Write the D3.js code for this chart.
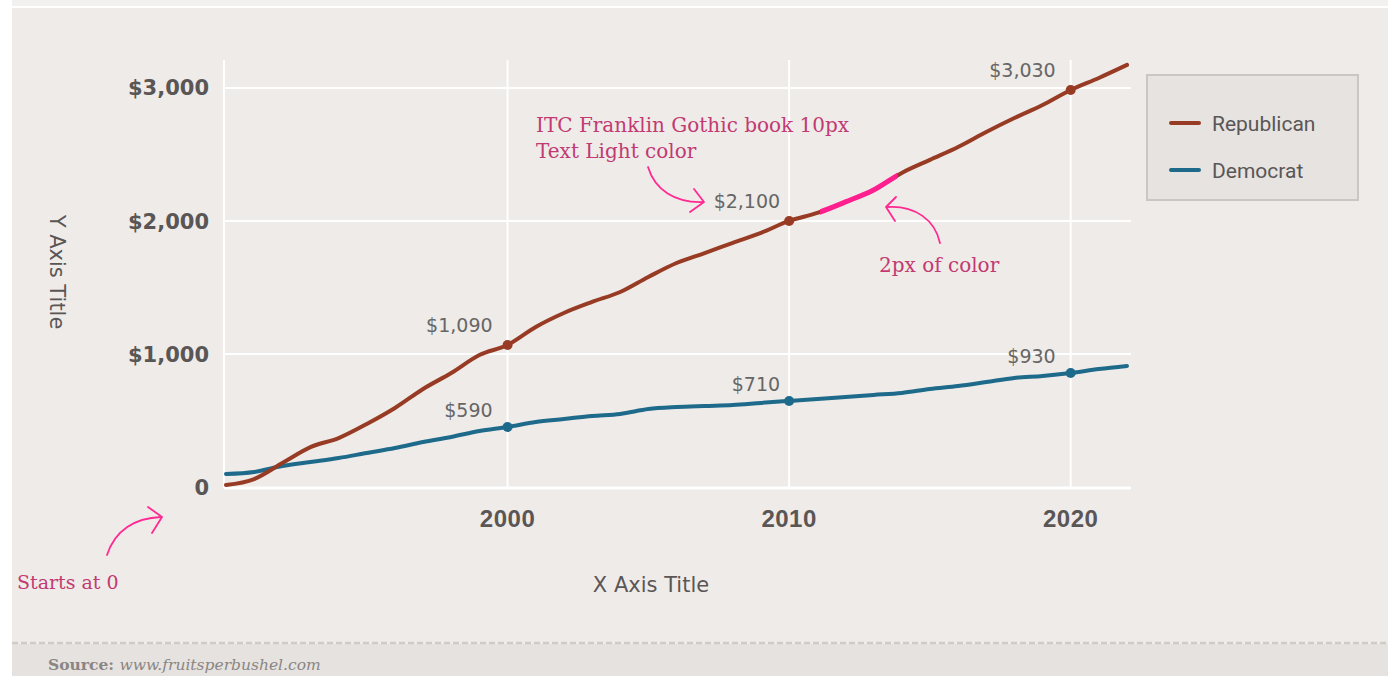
<!DOCTYPE html>
<html><head><meta charset="utf-8">
<script src="https://cdn.jsdelivr.net/npm/d3@7"></script>
<style>
html,body{margin:0;padding:0;background:#fff;}
svg{display:block;}
</style></head>
<body>
<script>
// ---- data ----
const years = d3.range(1990, 2023);
const republican = [15,60,180,300,368,474,594,737,857,992,1068,1203,1308,1391,1466,1579,1684,1759,1835,1910,2000,2060,2143,2233,2361,2459,2556,2669,2774,2872,2985,3075,3173];
const democrat = [98,113,158,188,218,256,293,338,376,421,451,489,511,534,549,586,601,609,616,632,647,662,677,692,707,737,759,789,820,835,857,887,910];
const seriesNames = ["Republican","Democrat"];
const xTicks = [2000, 2010, 2020];
const yTicks = [0, 1000, 2000, 3000];
const markedYears = [2000, 2010, 2020];
const repLabels = ["$1,090","$2,100","$3,030"];
const demLabels = ["$590","$710","$930"];
const highlightYears = [2011.1, 2013.85];

const W = 1388, H = 676;
const colors = {Republican:"#983b24", Democrat:"#1e6a8b"};
const svg = d3.select("body").append("svg").attr("width", W).attr("height", H);

// backgrounds
svg.append("rect").attr("x",12).attr("y",0).attr("width",W-12).attr("height",6).attr("fill","#f3f1ef");
svg.append("rect").attr("x",12).attr("y",8).attr("width",W-12).attr("height",636).attr("fill","#efebe8");
svg.append("rect").attr("x",12).attr("y",644).attr("width",W-12).attr("height",32).attr("fill","#e6e2df");
svg.append("line").attr("x1",12).attr("x2",W).attr("y1",643).attr("y2",643)
  .attr("stroke","#cfccc8").attr("stroke-width",2.5).attr("stroke-dasharray","6,3");

const x = d3.scaleLinear().domain([1990, 2022]).range([226, 1127]);
const y = d3.scaleLinear().domain([0, 3210]).range([487, 60]);

// grid
const g = svg.append("g");
g.selectAll(".hg").data(yTicks.filter(d=>d>0)).join("line")
  .attr("x1",224).attr("x2",1131).attr("y1",d=>y(d)).attr("y2",d=>y(d))
  .attr("stroke","#fff").attr("stroke-width",2);
g.selectAll(".vg").data(xTicks).join("line")
  .attr("x1",d=>x(d)).attr("x2",d=>x(d)).attr("y1",y.range()[1]).attr("y2",489)
  .attr("stroke","#fff").attr("stroke-width",2);
g.append("line").attr("x1",224).attr("x2",224).attr("y1",60).attr("y2",488)
  .attr("stroke","#fff").attr("stroke-width",2);
g.append("line").attr("x1",224).attr("x2",1131).attr("y1",y(0)+1).attr("y2",y(0)+1)
  .attr("stroke","#fff").attr("stroke-width",3);

// y ticks
svg.selectAll(".yt").data(yTicks).join("text")
  .attr("x",209).attr("y",d=>y(d)).attr("dy","0.36em").attr("text-anchor","end")
  .attr("font-family","DejaVu Sans, sans-serif").attr("font-weight","bold")
  .attr("font-size",21).attr("fill","#5a5656")
  .text(d => d===0 ? "0" : d3.format("$,")(d));
// x ticks
svg.selectAll(".xt").data(xTicks).join("text")
  .attr("x",d=>x(d)).attr("y",518).attr("dy","0.36em").attr("text-anchor","middle")
  .attr("font-family","Liberation Sans, Arial, sans-serif").attr("font-weight","bold")
  .attr("font-size",24).attr("letter-spacing",0.5).attr("fill","#5a5656")
  .text(d=>d);

// axis titles
svg.append("text").attr("transform","translate(50,272) rotate(90)")
  .attr("text-anchor","middle").attr("font-family","DejaVu Sans, sans-serif")
  .attr("font-size",21).attr("fill","#5a5656").text("Y Axis Title");
svg.append("text").attr("x",651).attr("y",584).attr("dy","0.36em")
  .attr("text-anchor","middle").attr("font-family","DejaVu Sans, sans-serif")
  .attr("font-size",21).attr("fill","#5a5656").text("X Axis Title");

// lines
const line = d3.line().x(d=>x(d[0])).y(d=>y(d[1])).curve(d3.curveMonotoneX);
const repData = years.map((yr,i)=>[yr, republican[i]]);
const demData = years.map((yr,i)=>[yr, democrat[i]]);
[[demData,"Democrat"],[repData,"Republican"]].forEach(([data,name])=>{
  svg.append("path").datum(data).attr("d",line).attr("fill","none")
    .attr("stroke",colors[name]).attr("stroke-width",4)
    .attr("stroke-linecap","round").attr("stroke-linejoin","round");
});

// highlight segment
svg.append("clipPath").attr("id","hl").append("rect")
  .attr("x",x(highlightYears[0])).attr("y",0)
  .attr("width",x(highlightYears[1])-x(highlightYears[0])).attr("height",H);
svg.append("path").datum(repData).attr("d",line).attr("fill","none")
  .attr("stroke","#ff1f8e").attr("stroke-width",5).attr("clip-path","url(#hl)");

// dots & labels
const lblFont = "DejaVu Sans, sans-serif";
markedYears.forEach((yr,i)=>{
  const ri = years.indexOf(yr);
  const off = yr === 2010 ? 9 : 15;
  svg.append("circle").attr("cx",x(yr)).attr("cy",y(republican[ri])).attr("r",5).attr("fill",colors.Republican);
  svg.append("circle").attr("cx",x(yr)).attr("cy",y(democrat[ri])).attr("r",5).attr("fill",colors.Democrat);
  svg.append("text").attr("x",x(yr)-off).attr("y",y(republican[ri])-20).attr("dy","0.36em")
    .attr("text-anchor","end").attr("font-family",lblFont).attr("font-size",19).attr("fill","#666")
    .text(repLabels[i]);
  svg.append("text").attr("x",x(yr)-off).attr("y",y(democrat[ri])-17).attr("dy","0.36em")
    .attr("text-anchor","end").attr("font-family",lblFont).attr("font-size",19).attr("fill","#666")
    .text(demLabels[i]);
});

// legend
const lg = svg.append("g");
lg.append("rect").attr("x",1147).attr("y",75).attr("width",211).attr("height",125)
  .attr("fill","#e6e3e0").attr("stroke","#c9c7c4").attr("stroke-width",2);
seriesNames.forEach((n,i)=>{
  const cy = 123 + i*47;
  lg.append("line").attr("x1",1171).attr("x2",1199).attr("y1",cy).attr("y2",cy)
    .attr("stroke",colors[n]).attr("stroke-width",4).attr("stroke-linecap","round");
  lg.append("text").attr("x",1212).attr("y",cy).attr("dy","0.36em")
    .attr("font-family","Roboto, Liberation Sans, sans-serif").attr("font-size",21).attr("fill","#5a5656").text(n);
});

// annotations
const pinkText = "#c23a72", pinkArrow = "#ff2a92";
const annFont = "DejaVu Serif, serif";
function ann(tx, ty, t, size){
  svg.append("text").attr("x",tx).attr("y",ty).attr("font-family",annFont)
    .attr("font-size",size).attr("fill",pinkText).text(t);
}
ann(536,132,"ITC Franklin Gothic book 10px",20);
ann(536,158,"Text Light color",20);
ann(879,272,"2px of color",20);
ann(17,589,"Starts at 0",19);
const arrows = [
  ["M107,555 C115,530 135,518 161,517","M148,507 L162,517 L152,533"],
  ["M648,167 C655,190 675,203 703,202","M694,189 L704,202 L690,212"],
  ["M940,243 C935,220 915,205 887,207","M896,197 L886,207 L895,221"]
];
arrows.forEach(([a,b])=>{
  svg.append("path").attr("d",a).attr("fill","none").attr("stroke",pinkArrow).attr("stroke-width",1.8).attr("stroke-linecap","round");
  svg.append("path").attr("d",b).attr("fill","none").attr("stroke",pinkArrow).attr("stroke-width",1.8).attr("stroke-linecap","round").attr("stroke-linejoin","round");
});

// source
const src = svg.append("text").attr("x",48).attr("y",670).attr("font-family","DejaVu Serif, serif")
  .attr("font-size",15.5).attr("fill","#8a8684");
src.append("tspan").attr("font-weight","bold").text("Source: ");
src.append("tspan").attr("font-style","italic").text("www.fruitsperbushel.com");
</script>
</body></html>
